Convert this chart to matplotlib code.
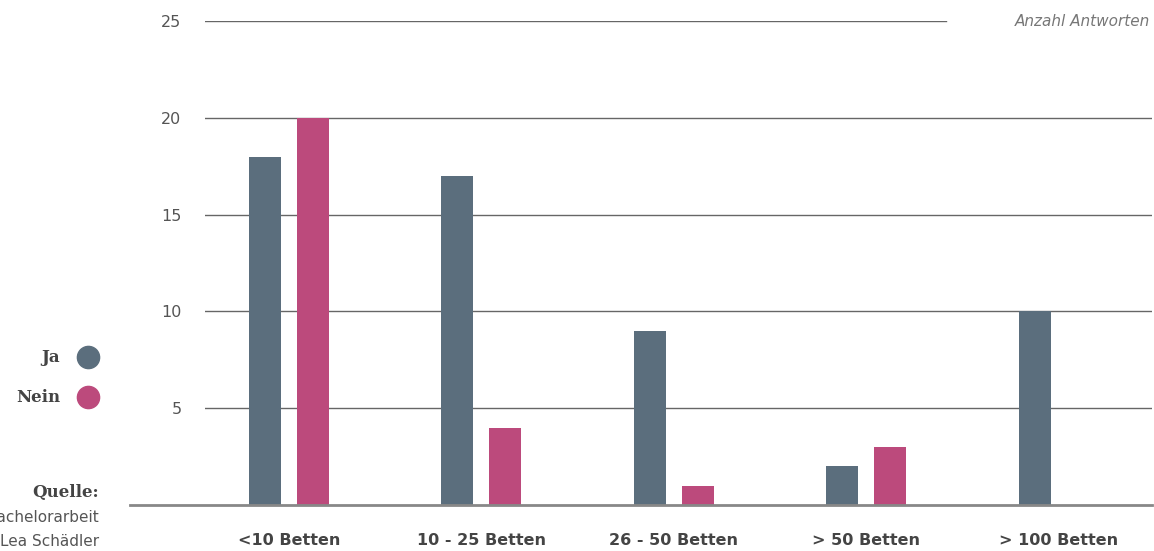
import matplotlib.pyplot as plt
import numpy as np

categories = ['<10 Betten', '10 - 25 Betten', '26 - 50 Betten', '> 50 Betten', '> 100 Betten']
ja = [18, 17, 9, 2, 10]
nein = [20, 4, 1, 3, 0]
y_ticks = [5, 10, 15, 20, 25]

col_ja = '#5b6e7d'
col_nein = '#bc4a7c'
text_col = '#555555'

W, H = 1154, 551
fig = plt.figure(figsize=(W / 100, H / 100), dpi=100)

# axes placed in pixel terms: x 205..1152, y 21 (=25) .. 505 (=0)
ax = fig.add_axes([205 / W, (H - 505) / H, (1152 - 205) / W, (505 - 21) / H])
x = np.arange(len(categories))
bw = 0.166
off = 0.125
ax.bar(x - off, ja, width=bw, color=col_ja, zorder=3)
ax.bar(x + off, nein, width=bw, color=col_nein, zorder=3)

ax.set_xlim((205 - 289) / 192.4, (1152 - 289) / 192.4)
ax.set_ylim(0, 25)

for s in ax.spines.values():
    s.set_visible(False)

# gridlines
for v in y_ticks[:-1]:
    ax.axhline(v, color='#666666', lw=1.0, zorder=1)
ax.axhline(25, xmin=0, xmax=(946 - 205) / (1152 - 205), color='#666666', lw=1.0, zorder=1)
ax.axhline(0, xmin=-(205 - 130) / (1152 - 205), xmax=1, color='#888888', lw=2.0,
           zorder=4, clip_on=False)

ax.set_yticks(y_ticks)
ax.set_yticklabels([str(v) for v in y_ticks], color=text_col, fontsize=11.5)
ax.tick_params(axis='y', length=0, pad=17)

ax.set_xticks(x)
ax.set_xticklabels(categories, color='#444444', fontsize=11.5, fontweight='bold')
ax.tick_params(axis='x', length=0, pad=20)

fig.text(1150 / W, 1 - 22 / H, 'Anzahl Antworten', ha='right', va='center',
         fontsize=11, style='italic', color='#777777')

# legend
for label, col, yy in [('Ja', col_ja, 357), ('Nein', col_nein, 397)]:
    fig.text(60 / W, 1 - yy / H, label, ha='right', va='center', fontsize=12,
             fontweight='bold', family='DejaVu Serif', color='#444444')
    fig.add_artist(plt.Line2D([88 / W], [1 - yy / H], marker='o', markersize=16,
                              color=col, transform=fig.transFigure))

fig.text(99 / W, 1 - 493 / H, 'Quelle:', ha='right', va='center', fontsize=12,
         fontweight='bold', family='DejaVu Serif', color='#444444')
fig.text(99 / W, 1 - 518 / H, 'Bachelorarbeit', ha='right', va='center',
         fontsize=11, color=text_col)
fig.text(99 / W, 1 - 541 / H, 'Lea Schädler', ha='right', va='center',
         fontsize=11, color=text_col)

fig.savefig('out.png', dpi=100)
